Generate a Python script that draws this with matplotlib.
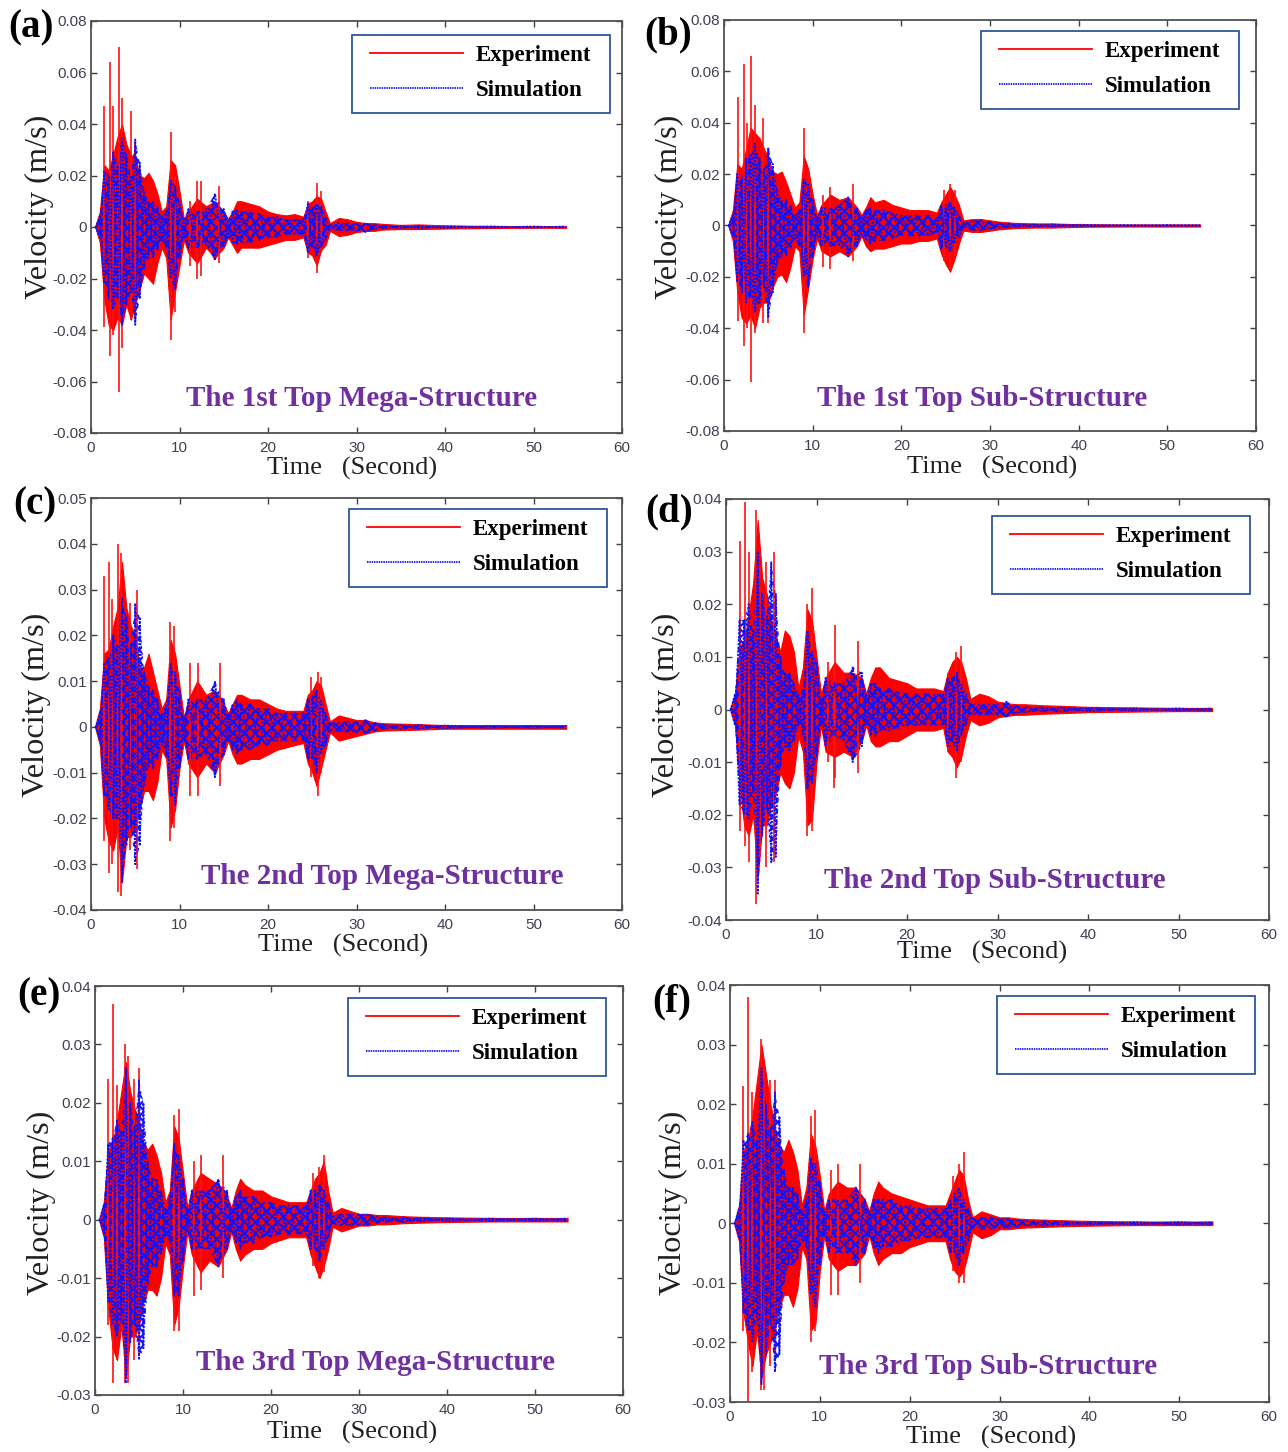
import matplotlib
matplotlib.use("Agg")
import matplotlib.pyplot as plt
import numpy as np
from matplotlib.lines import Line2D
from matplotlib.patches import Rectangle

W, H = 1288, 1452
SERIF = "Liberation Serif"
SANS = "Liberation Sans"
plt.rcParams["hatch.linewidth"] = 1.5

# envelope sample times, seconds
T = [0.5, 1, 1.5, 2, 2.5, 3, 3.5, 4, 4.5, 5, 5.5, 6, 6.5, 7, 7.5, 8, 8.5, 9, 9.5, 10, 10.5,
     11, 12, 13, 14, 15, 15.5, 16, 16.5, 17, 18, 19, 20, 21, 22, 23, 24,
     24.5, 25, 25.5, 26, 26.5, 27, 28, 29, 30, 31, 32, 33, 35, 37, 40, 45, 50, 53.7]

# all velocities below, in mm/s
a_exp_hi = [.3, 6, 24, 22, 28, 35, 40, 32, 28, 27, 20, 19, 21, 18, 13, 6, 8, 26, 24, 14, 3,
            6, 11, 8, 10, 6, 3, 6, 10, 10, 9, 8, 6, 5, 4.5, 5, 4,
            9, 10, 12, 11, 6, 1.5, 3.5, 3, 2, 1.5, 1.5, 1.2, .8, 1, .6, .4, .3, .3]
a_exp_lo = [-.3, -6, -28, -38, -40, -35, -38, -30, -36, -30, -24, -18, -20, -22, -14, -8, -12, -36, -25, -15, -5,
            -10, -14, -8, -12, -8, -4, -7, -10, -8, -8, -8, -7, -6, -5, -5, -4,
            -10, -11, -15, -9, -7, -1.5, -3.5, -3, -2, -1.5, -1.5, -1, -.8, -.8, -.6, -.4, -.3, -.3]
a_sim_hi = [.2, 4, 22, 20, 29, 24, 35, 28, 20, 34, 25, 14, 10, 10, 8, 4, 6, 18, 16, 10, 3,
            7, 6, 7, 13, 7, 3, 6, 7, 6, 6, 5, 4, 4, 3, 3, 3,
            9, 8, 9, 8, 4, 1, 1.5, 1.5, 1.5, 1.5, 1, .5, .4, .4, .3, .2, .2, .2]
a_sim_lo = [-.2, -4, -22, -28, -32, -28, -38, -30, -26, -38, -28, -16, -12, -12, -9, -5, -8, -20, -24, -12, -4,
            -8, -8, -7, -13, -8, -4, -6, -7, -6, -6, -5, -4, -4, -3, -3, -3,
            -10, -8, -11, -8, -5, -1, -1.5, -1.5, -1.5, -2, -1, -.5, -.4, -.4, -.3, -.2, -.2, -.2]
a_spike_t = [1.5, 2.2, 2.5, 3.2, 3.5, 4.5, 5, 9, 9.5, 11.2, 12, 12.4, 14.5, 24.5, 25.5, 26]
a_spike_hi = [47, 64, 47, 70, 50, 45, 33, 37, 20, 10, 18, 18, 16, 10, 17, 14]
a_spike_lo = [-39, -50, -42, -64, -47, -36, -35, -44, -33, -15, -20, -19, -14, -12, -18, -9]

b_exp_hi = [.3, 6, 24, 22, 30, 38, 36, 34, 30, 26, 21, 20, 21, 17, 12, 7, 9, 27, 22, 12, 4,
            8, 12, 10, 11, 7, 4, 7, 11, 9, 10, 8, 7, 6, 6, 6, 5,
            9, 12, 15, 12, 8, 2, 2.5, 2.5, 2, 1.5, 1.2, 1, .8, .8, .5, .4, .4, .4]
b_exp_lo = [-.3, -6, -26, -36, -38, -35, -40, -32, -30, -30, -24, -20, -19, -22, -16, -8, -10, -35, -24, -13, -5,
            -10, -12, -10, -12, -8, -4, -8, -10, -9, -9, -8, -7, -7, -6, -6, -5,
            -11, -15, -18, -13, -7, -2, -2.5, -2.5, -2, -1.5, -1.2, -1, -.8, -.8, -.5, -.4, -.4, -.4]
b_sim_hi = [.2, 4, 20, 18, 26, 28, 32, 26, 22, 30, 24, 14, 10, 10, 8, 4, 6, 18, 16, 10, 3,
            7, 7, 8, 11, 7, 3, 6, 7, 6, 6, 5, 4, 4, 4, 4, 3,
            8, 8, 9, 7, 4, 1, 2, 2, 1.5, 1, 1, .5, .4, .4, .3, .2, .2, .2]
b_sim_lo = [-.2, -4, -22, -26, -30, -28, -34, -30, -24, -36, -26, -15, -12, -12, -9, -5, -8, -20, -24, -12, -4,
            -8, -8, -8, -12, -8, -4, -6, -7, -6, -6, -5, -4, -4, -4, -4, -3,
            -9, -8, -10, -7, -5, -1, -2, -2, -1.5, -1, -1, -.5, -.4, -.4, -.3, -.2, -.2, -.2]
b_spike_t = [1.6, 2.2, 2.6, 3, 3.5, 4.4, 5, 9, 9.5, 11.2, 12, 14.5, 24.8, 25.5, 26]
b_spike_hi = [50, 63, 40, 66, 47, 42, 30, 38, 22, 12, 15, 16, 14, 16, 14]
b_spike_lo = [-37, -47, -40, -61, -42, -38, -38, -42, -26, -16, -17, -14, -14, -17, -12]

c_exp_hi = [.3, 4, 16, 17, 22, 26, 36, 26, 22, 20, 13, 13, 16, 12, 8, 4, 6, 19, 16, 9, 2,
            6, 10, 7, 8, 5, 3, 5, 7, 7, 6, 6, 5, 4, 3.5, 3.5, 3.5,
            7, 8, 10, 9, 5, 1.2, 2.5, 2, 1.5, 1.5, 1, .8, .7, .6, .4, .4, .4, .4]
c_exp_lo = [-.3, -4, -20, -25, -27, -22, -34, -24, -24, -22, -18, -14, -14, -16, -12, -5, -7, -22, -18, -9, -3,
            -8, -11, -8, -10, -6, -3, -6, -8, -8, -7, -7, -6, -5, -4.5, -4, -3.5,
            -8, -10, -13, -9, -5, -1.2, -3, -2.5, -2, -1.5, -1, -.8, -.7, -.6, -.4, -.4, -.4, -.4]
c_sim_hi = [.2, 3, 14, 15, 20, 18, 28, 24, 18, 27, 24, 12, 9, 8, 6, 3, 5, 14, 12, 8, 2,
            6, 6, 6, 10, 6, 3, 5, 6, 5, 5, 4, 4, 3, 3, 3, 3,
            6, 7, 8, 6, 3, 1, 1, 1.2, 1.2, 1.5, 1, .5, .4, .4, .3, .2, .2, .2]
c_sim_lo = [-.2, -3, -15, -18, -20, -20, -34, -26, -22, -30, -26, -13, -9, -9, -7, -4, -6, -15, -17, -9, -3,
            -7, -7, -6, -11, -6, -3, -5, -6, -5, -5, -4, -4, -3, -3, -3, -3,
            -7, -7, -10, -6, -4, -1, -1, -1.2, -1.2, -1.5, -1, -.5, -.4, -.4, -.3, -.2, -.2, -.2]
c_spike_t = [1.5, 2, 2.4, 3.1, 3.4, 4.4, 5.2, 8.9, 9.4, 11.2, 12.1, 14.6, 24.9, 25.6, 26]
c_spike_hi = [33, 36, 28, 40, 38, 27, 30, 23, 22, 14, 14, 14, 11, 12, 11]
c_spike_lo = [-25, -32, -30, -36, -37, -27, -31, -25, -22, -15, -15, -13, -11, -15, -10]

d_exp_hi = [.3, 3, 12, 13, 18, 24, 36, 25, 22, 17, 14, 11, 15, 14, 11, 4, 8, 19, 17, 10, 3,
            6, 9, 7, 7, 6, 3, 6, 8, 8, 6, 5.5, 5, 4, 4, 4, 3.5,
            7, 9, 10, 9, 6, 2, 3, 2.5, 1.5, 1.2, 1, 1, .8, .7, .5, .4, .3, .3]
d_exp_lo = [-.3, -3, -14, -22, -24, -20, -32, -22, -22, -18, -16, -12, -14, -15, -12, -5, -8, -22, -21, -10, -3,
            -8, -9, -8, -9, -6, -3, -6, -7, -7, -6, -6, -5, -4, -4, -4, -3.5,
            -8, -9, -11, -9, -5, -2, -3, -2.5, -1.5, -1.2, -1, -1, -.8, -.7, -.5, -.4, -.3, -.3]
d_sim_hi = [.2, 3, 17, 17, 20, 15, 30, 22, 18, 28, 22, 10, 7, 7, 5, 3, 4, 15, 11, 9, 2,
            6, 5, 5, 8, 7, 3, 5, 5, 4, 4, 3.5, 3, 3, 3, 3, 3,
            6, 6, 7, 5, 3, 1, 1, 1, 1, 1.5, .8, .5, .4, .4, .3, .2, .2, .2]
d_sim_lo = [-.2, -3, -18, -20, -21, -16, -35, -24, -19, -29, -28, -11, -7, -8, -6, -3, -5, -15, -14, -9, -3,
            -7, -5, -6, -10, -7, -3, -5, -5, -4, -4, -3.5, -3, -3, -3, -3, -3,
            -7, -6, -8, -5, -3, -1, -1, -1, -1, -1.5, -.8, -.5, -.4, -.4, -.3, -.2, -.2, -.2]
d_spike_t = [1.5, 2.1, 2.5, 3.3, 3.8, 4.4, 5.3, 9, 9.5, 11.3, 11.9, 12, 14.6, 24.5, 25.4, 26]
d_spike_hi = [32, 39.5, 30, 38, 27, 28, 30, 20, 23, 9, 8, 16, 13, 7, 11, 12]
d_spike_lo = [-23, -26, -29, -37, -28, -30, -29, -24, -23, -10, -15, -13, -12, -8, -13, -10]

e_exp_hi = [.2, 3, 12, 13, 17, 22, 27, 22, 19, 17, 13, 12, 13, 11, 8, 3, 5, 16, 14, 8, 2,
            5, 8, 7, 6, 4, 2, 5, 7, 6, 5, 5, 4, 3.5, 3, 3, 3,
            5, 7, 8, 10, 5, 1.2, 2, 1.5, 1, 1, .8, .8, .6, .5, .4, .3, .3, .3]
e_exp_lo = [-.2, -3, -15, -22, -24, -18, -27, -20, -20, -18, -14, -12, -12, -13, -10, -4, -6, -18, -15, -8, -2,
            -6, -9, -7, -8, -5, -2, -5, -7, -6, -5, -5, -4, -3.5, -3, -3, -3,
            -6, -8, -10, -8, -5, -1.2, -2, -1.5, -1, -1, -.8, -.8, -.6, -.5, -.4, -.3, -.3, -.3]
e_sim_hi = [.2, 2.5, 13, 14, 17, 15, 26, 20, 16, 24, 20, 10, 7, 7, 5, 2, 4, 13, 11, 7, 2,
            5, 5, 5, 7, 5, 2, 4, 5, 4, 4, 3, 3, 2.5, 2.5, 2.5, 2.5,
            5, 5, 6, 5, 3, .8, 1, 1, 1, 1, .6, .4, .4, .3, .2, .2, .2, .2]
e_sim_lo = [-.2, -2.5, -14, -18, -20, -17, -28, -21, -18, -24, -22, -11, -8, -8, -6, -3, -4, -13, -13, -7, -2,
            -5, -5, -5, -8, -5, -2, -4, -5, -4, -4, -3, -3, -2.5, -2.5, -2.5, -2.5,
            -5, -5, -7, -5, -3, -.8, -1, -1, -1, -1, -.6, -.4, -.4, -.3, -.2, -.2, -.2, -.2]
e_spike_t = [1.5, 2, 2.5, 3.4, 3.8, 4.4, 5, 9, 9.5, 11.2, 12, 14.5, 24.8, 25.5, 26]
e_spike_hi = [24, 37, 23, 30, 28, 24, 26, 18, 19, 10, 11, 11, 8, 9, 11]
e_spike_lo = [-18, -28, -24, -28, -28, -24, -23, -19, -19, -13, -12, -10, -8, -10, -9]

f_exp_hi = [.2, 3, 12, 14, 18, 24, 30, 25, 20, 16, 13, 12, 14, 12, 9, 3, 6, 15, 13, 8, 2,
            5, 7, 6, 6, 4, 2, 5, 7, 6, 5, 4.5, 4, 3.5, 3, 3, 3,
            5, 7, 9, 8, 4, 1, 2, 1.5, 1, 1, .8, .7, .6, .5, .4, .3, .3, .3]
f_exp_lo = [-.2, -3, -15, -20, -24, -18, -26, -22, -20, -18, -14, -12, -12, -14, -11, -4, -6, -18, -17, -8, -2,
            -6, -8, -7, -7, -5, -2, -5, -7, -6, -5, -5, -4, -3.5, -3, -3, -3,
            -6, -8, -9, -8, -5, -1.5, -2.5, -2, -1, -1, -.8, -.7, -.6, -.5, -.4, -.3, -.3, -.3]
f_sim_hi = [.2, 2.5, 14, 15, 17, 14, 26, 20, 16, 22, 18, 9, 6, 6, 5, 2, 4, 11, 10, 7, 2,
            4, 4, 4, 6, 4, 2, 4, 4, 4, 4, 3, 3, 2.5, 2.5, 2.5, 2.5,
            4, 5, 6, 4, 2.5, .8, 1, 1, .8, .8, .6, .4, .4, .3, .2, .2, .2, .2]
f_sim_lo = [-.2, -2.5, -15, -18, -20, -16, -27, -22, -17, -25, -22, -10, -7, -7, -6, -3, -4, -12, -14, -7, -2,
            -5, -5, -5, -7, -5, -2, -4, -5, -4, -4, -3, -3, -2.5, -2.5, -2.5, -2.5,
            -5, -5, -7, -5, -3, -.8, -1, -1, -.8, -.8, -.6, -.4, -.4, -.3, -.2, -.2, -.2, -.2]
f_spike_t = [1.5, 2, 2.5, 3.4, 3.8, 4.4, 5, 9, 9.5, 11.2, 12, 14.5, 24.8, 25.5, 26]
f_spike_hi = [23, 38, 22, 31, 26, 24, 24, 18, 19, 9, 10, 10, 8, 10, 12]
f_spike_lo = [-18, -30, -25, -28, -28, -24, -22, -20, -18, -12, -12, -10, -8, -10, -10]

x_ticks = [0, 10, 20, 30, 40, 50, 60]
y_ticks_ab = [-0.08, -0.06, -0.04, -0.02, 0, 0.02, 0.04, 0.06, 0.08]
y_ticks_c = [-0.04, -0.03, -0.02, -0.01, 0, 0.01, 0.02, 0.03, 0.04, 0.05]
y_ticks_d = [-0.04, -0.03, -0.02, -0.01, 0, 0.01, 0.02, 0.03, 0.04]
y_ticks_ef = [-0.03, -0.02, -0.01, 0, 0.01, 0.02, 0.03, 0.04]

letters = ["(a)", "(b)", "(c)", "(d)", "(e)", "(f)"]
titles = ["The 1st Top Mega-Structure", "The 1st Top Sub-Structure",
          "The 2nd Top Mega-Structure", "The 2nd Top Sub-Structure",
          "The 3rd Top Mega-Structure", "The 3rd Top Sub-Structure"]

# (left, right, top, bottom) of each axes in pixels
boxes = [(91, 622, 21, 433), (724, 1256, 20, 431), (91, 622, 498, 910),
         (726, 1269, 499, 920), (95, 623, 986, 1395), (730, 1269, 985, 1402)]
ylabel_xy = [(39, 207), (669, 207), (36, 705), (666, 705), (41, 1203), (673, 1203)]
xlabel_xy = [(352, 468), (992, 467), (343, 945), (982, 952), (352, 1432), (991, 1437)]
title_xy = [(362, 398), (982, 398), (382, 876), (995, 880), (375, 1362), (988, 1366)]
letter_xy = [(8, 28), (644, 35), (13, 505), (645, 512), (17, 996), (652, 1002)]
legend_xy = [(352, 35), (981, 31), (349, 509), (992, 516), (348, 998), (997, 996)]


def fx(px):
    return px / W


def fy(px):
    return 1 - px / H


def plot_panel(fig, i, exp_hi, exp_lo, sim_hi, sim_lo, spike_t, spike_hi, spike_lo, y_ticks):
    left, right, top, bottom = boxes[i]
    ax = fig.add_axes([fx(left), fy(bottom), (right - left) / W, (bottom - top) / H])

    t = np.array(T)
    ax.fill_between(t, np.array(exp_lo) / 1000, np.array(exp_hi) / 1000, color="#ff0000", lw=0.8)
    ax.vlines(spike_t, np.array(spike_lo) / 1000, np.array(spike_hi) / 1000, color="#ff1010", lw=1.2)

    # hatch plus two opposite zigzags give the dense blue weave of the simulation trace
    hi, lo = np.array(sim_hi) / 1000, np.array(sim_lo) / 1000
    ax.fill_between(t, lo, hi, facecolor="none", edgecolor="#1414f5", hatch="xxx", lw=0)
    even = np.arange(len(t)) % 2 == 0
    ax.plot(t, np.where(even, hi, lo), color="#1010ff", lw=1.3, ls=(0, (1.2, 0.8)))
    ax.plot(t, np.where(even, lo, hi), color="#1010ff", lw=1.3, ls=(0, (1.2, 0.8)))

    ax.set_xlim(0, 60)
    ax.set_ylim(y_ticks[0], y_ticks[-1])
    ax.set_xticks(x_ticks)
    ax.set_yticks(y_ticks)
    ax.set_yticklabels([f"{v:g}" for v in y_ticks])
    ax.tick_params(direction="in", top=True, right=True, length=4, width=1, color="#404040",
                   labelcolor="#404050", labelsize=11, pad=3)
    ax.tick_params(axis="x", pad=6)
    for lab in ax.get_xticklabels() + ax.get_yticklabels():
        lab.set_fontfamily(SANS)
    for s in ax.spines.values():
        s.set_color("#505050")
        s.set_linewidth(1.3)

    ax.set_ylabel("Velocity (m/s)", family=SERIF, fontsize=23.3, color="#202020")
    ax.yaxis.set_label_coords(fx(ylabel_xy[i][0]), fy(ylabel_xy[i][1]), transform=fig.transFigure)
    ax.set_xlabel("Time   (Second)", family=SERIF, fontsize=19, color="#202020")
    ax.xaxis.set_label_coords(fx(xlabel_xy[i][0]), fy(xlabel_xy[i][1]), transform=fig.transFigure)
    ax.xaxis.label.set_va("center")
    ax.yaxis.label.set_va("center")

    fig.text(fx(title_xy[i][0]), fy(title_xy[i][1]), titles[i], family=SERIF, weight="bold",
             fontsize=21, color="#7030a0", ha="center", va="center")
    fig.text(fx(letter_xy[i][0]), fy(letter_xy[i][1]), letters[i], family=SERIF, weight="bold",
             fontsize=28, color="black", ha="left", va="center")

    # frame sized by hand, the legend itself sits inside it without its own frame
    lx, ly = legend_xy[i]
    ax.add_patch(Rectangle((fx(lx), fy(ly + 78)), 258 / W, 78 / H, transform=fig.transFigure,
                           facecolor="white", edgecolor="#2f5597", lw=1.3, zorder=4, clip_on=False))
    handles = [Line2D([], [], color="#ff0000", lw=1.3),
               Line2D([], [], color="#1010ff", lw=1.3, ls=(0, (0.8, 0.5)))]
    ax.legend(handles, ["Experiment", "Simulation"], loc="upper left",
              bbox_to_anchor=(fx(lx + 18), fy(ly + 10)), bbox_transform=fig.transFigure,
              borderaxespad=0, borderpad=0, frameon=False, handlelength=4.05, handletextpad=0.55,
              labelspacing=0.62, prop={"family": SERIF, "weight": "bold", "size": 16.5})
    return ax


fig = plt.figure(figsize=(W / 100, H / 100), dpi=100)
plot_panel(fig, 0, a_exp_hi, a_exp_lo, a_sim_hi, a_sim_lo, a_spike_t, a_spike_hi, a_spike_lo, y_ticks_ab)
plot_panel(fig, 1, b_exp_hi, b_exp_lo, b_sim_hi, b_sim_lo, b_spike_t, b_spike_hi, b_spike_lo, y_ticks_ab)
plot_panel(fig, 2, c_exp_hi, c_exp_lo, c_sim_hi, c_sim_lo, c_spike_t, c_spike_hi, c_spike_lo, y_ticks_c)
plot_panel(fig, 3, d_exp_hi, d_exp_lo, d_sim_hi, d_sim_lo, d_spike_t, d_spike_hi, d_spike_lo, y_ticks_d)
plot_panel(fig, 4, e_exp_hi, e_exp_lo, e_sim_hi, e_sim_lo, e_spike_t, e_spike_hi, e_spike_lo, y_ticks_ef)
plot_panel(fig, 5, f_exp_hi, f_exp_lo, f_sim_hi, f_sim_lo, f_spike_t, f_spike_hi, f_spike_lo, y_ticks_ef)
fig.savefig("out.png", dpi=100)
